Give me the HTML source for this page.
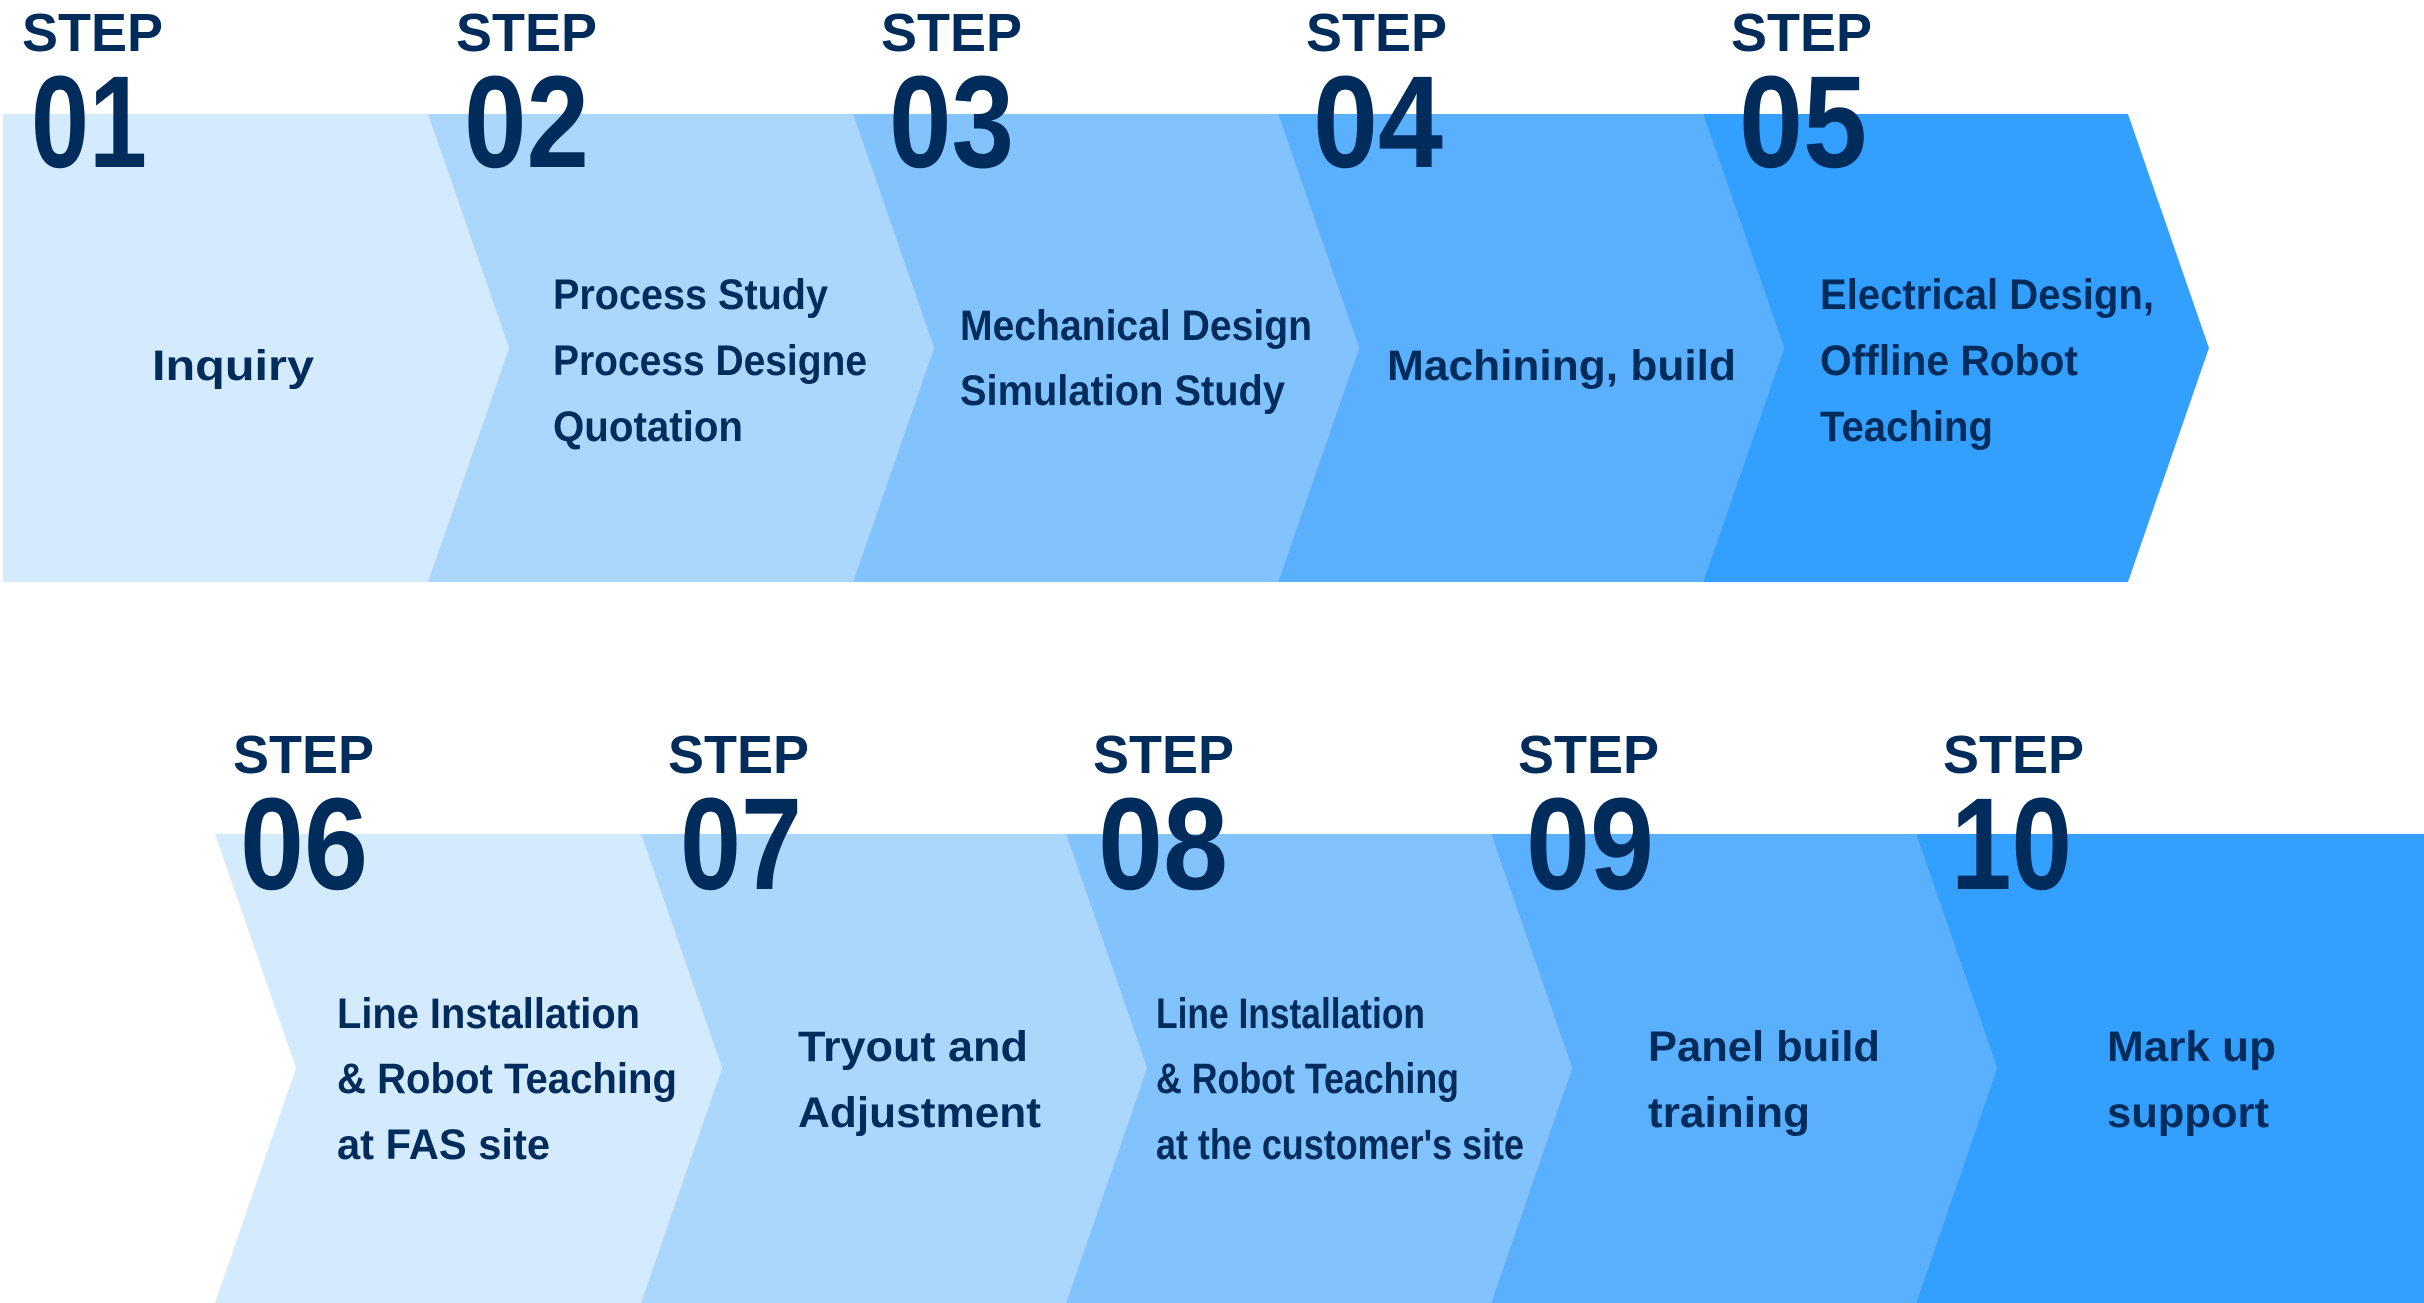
<!DOCTYPE html>
<html><head><meta charset="utf-8"><style>
html,body{margin:0;padding:0;background:#fff;}
svg{display:block;}
text{font-family:"Liberation Sans",sans-serif;font-weight:bold;fill:#002c5c;}
.s{font-size:54px;}
.n{font-size:131px;}
.b{font-size:43px;}
</style></head><body>
<svg width="2424" height="1303" viewBox="0 0 2424 1303" xmlns="http://www.w3.org/2000/svg">
<!-- Row 1 -->
<polygon points="3,114 428,114 509,348 428,582 3,582" fill="#d4eafd"/>
<polygon points="428,114 853,114 934,348 853,582 428,582 509,348" fill="#acd7fd"/>
<polygon points="853,114 1278,114 1359,348 1278,582 853,582 934,348" fill="#83c3fd"/>
<polygon points="1278,114 1703,114 1784,348 1703,582 1278,582 1359,348" fill="#5bb0fd"/>
<polygon points="1703,114 2128,114 2209,348 2128,582 1703,582 1784,348" fill="#339ffe"/>
<!-- Row 2 -->
<polygon points="215,834 641,834 722,1068 641,1303 215,1303 296,1068" fill="#d4eafd"/>
<polygon points="641,834 1066,834 1147,1068 1066,1303 641,1303 722,1068" fill="#acd7fd"/>
<polygon points="1066,834 1491,834 1572,1068 1491,1303 1066,1303 1147,1068" fill="#83c3fd"/>
<polygon points="1491,834 1916,834 1997,1068 1916,1303 1491,1303 1572,1068" fill="#5bb0fd"/>
<polygon points="1916,834 2424,834 2424,1303 1916,1303 1997,1068" fill="#339ffe"/>

<!-- STEP labels -->
<text class="s" x="22" y="51" textLength="141" lengthAdjust="spacingAndGlyphs">STEP</text>
<text class="s" x="456" y="51" textLength="141" lengthAdjust="spacingAndGlyphs">STEP</text>
<text class="s" x="881" y="51" textLength="141" lengthAdjust="spacingAndGlyphs">STEP</text>
<text class="s" x="1306" y="51" textLength="141" lengthAdjust="spacingAndGlyphs">STEP</text>
<text class="s" x="1731" y="51" textLength="141" lengthAdjust="spacingAndGlyphs">STEP</text>
<text class="s" x="233" y="773" textLength="141" lengthAdjust="spacingAndGlyphs">STEP</text>
<text class="s" x="668" y="773" textLength="141" lengthAdjust="spacingAndGlyphs">STEP</text>
<text class="s" x="1093" y="773" textLength="141" lengthAdjust="spacingAndGlyphs">STEP</text>
<text class="s" x="1518" y="773" textLength="141" lengthAdjust="spacingAndGlyphs">STEP</text>
<text class="s" x="1943" y="773" textLength="141" lengthAdjust="spacingAndGlyphs">STEP</text>

<!-- Numbers -->
<text class="n" x="31" y="167" textLength="116" lengthAdjust="spacingAndGlyphs">01</text>
<text class="n" x="464" y="167" textLength="125" lengthAdjust="spacingAndGlyphs">02</text>
<text class="n" x="889" y="167" textLength="125" lengthAdjust="spacingAndGlyphs">03</text>
<text class="n" x="1313" y="167" textLength="130" lengthAdjust="spacingAndGlyphs">04</text>
<text class="n" x="1739" y="167" textLength="128" lengthAdjust="spacingAndGlyphs">05</text>
<text class="n" x="240" y="889" textLength="128" lengthAdjust="spacingAndGlyphs">06</text>
<text class="n" x="680" y="889" textLength="122" lengthAdjust="spacingAndGlyphs">07</text>
<text class="n" x="1098" y="889" textLength="130" lengthAdjust="spacingAndGlyphs">08</text>
<text class="n" x="1526" y="889" textLength="128" lengthAdjust="spacingAndGlyphs">09</text>
<text class="n" x="1951" y="889" textLength="121" lengthAdjust="spacingAndGlyphs">10</text>

<!-- Body text -->
<text class="b" x="152" y="380" textLength="162" lengthAdjust="spacingAndGlyphs">Inquiry</text>

<text class="b" x="553" y="309" textLength="275" lengthAdjust="spacingAndGlyphs">Process Study</text>
<text class="b" x="553" y="375" textLength="314" lengthAdjust="spacingAndGlyphs">Process Designe</text>
<text class="b" x="553" y="441" textLength="190" lengthAdjust="spacingAndGlyphs">Quotation</text>

<text class="b" x="960" y="340" textLength="352" lengthAdjust="spacingAndGlyphs">Mechanical Design</text>
<text class="b" x="960" y="405" textLength="325" lengthAdjust="spacingAndGlyphs">Simulation Study</text>

<text class="b" x="1387" y="380" textLength="349" lengthAdjust="spacingAndGlyphs">Machining, build</text>

<text class="b" x="1820" y="309" textLength="334" lengthAdjust="spacingAndGlyphs">Electrical Design,</text>
<text class="b" x="1820" y="375" textLength="258" lengthAdjust="spacingAndGlyphs">Offline Robot</text>
<text class="b" x="1820" y="441" textLength="173" lengthAdjust="spacingAndGlyphs">Teaching</text>

<text class="b" x="337" y="1028" textLength="303" lengthAdjust="spacingAndGlyphs">Line Installation</text>
<text class="b" x="337" y="1093" textLength="340" lengthAdjust="spacingAndGlyphs">&amp; Robot Teaching</text>
<text class="b" x="337" y="1159" textLength="213" lengthAdjust="spacingAndGlyphs">at FAS site</text>

<text class="b" x="798" y="1061" textLength="230" lengthAdjust="spacingAndGlyphs">Tryout and</text>
<text class="b" x="798" y="1127" textLength="243" lengthAdjust="spacingAndGlyphs">Adjustment</text>

<text class="b" x="1156" y="1028" textLength="269" lengthAdjust="spacingAndGlyphs">Line Installation</text>
<text class="b" x="1156" y="1093" textLength="303" lengthAdjust="spacingAndGlyphs">&amp; Robot Teaching</text>
<text class="b" x="1156" y="1159" textLength="368" lengthAdjust="spacingAndGlyphs">at the customer's site</text>

<text class="b" x="1648" y="1061" textLength="232" lengthAdjust="spacingAndGlyphs">Panel build</text>
<text class="b" x="1648" y="1127" textLength="162" lengthAdjust="spacingAndGlyphs">training</text>

<text class="b" x="2107" y="1061" textLength="169" lengthAdjust="spacingAndGlyphs">Mark up</text>
<text class="b" x="2107" y="1127" textLength="162" lengthAdjust="spacingAndGlyphs">support</text>
</svg>
</body></html>
